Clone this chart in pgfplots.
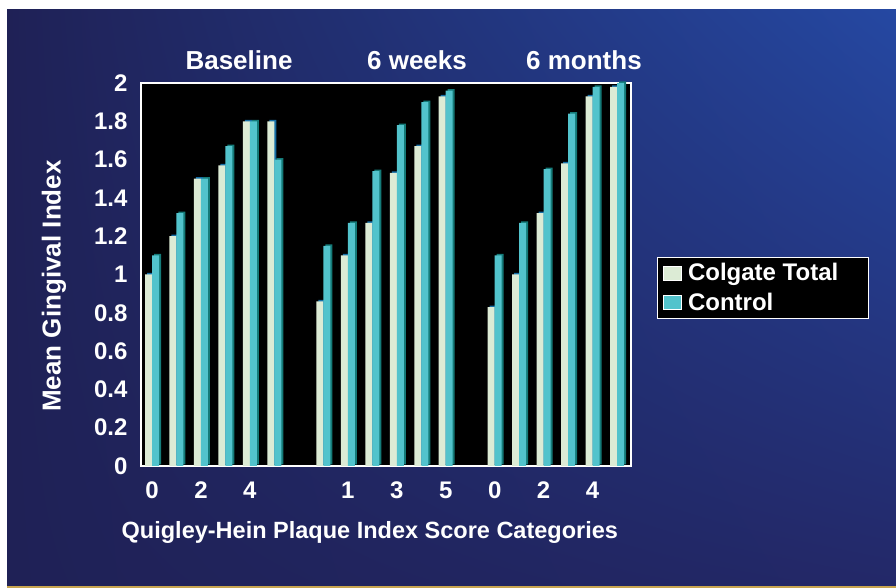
\documentclass[border=0pt]{standalone}
\usepackage{fontspec}
\setmainfont{Liberation Sans}
\usepackage{pgfplots}
\pgfplotsset{compat=1.18}
\usepackage{pgfplotstable}
\usetikzlibrary{shadings}

\definecolor{bgUL}{RGB}{31,33,86}
\definecolor{bgUR}{RGB}{37,72,162}
\definecolor{bgLL}{RGB}{31,33,86}
\definecolor{bgLR}{RGB}{35,40,104}
\definecolor{colgate}{RGB}{220,235,213}
\definecolor{colgatetop}{RGB}{22,110,165}
\definecolor{control}{RGB}{82,195,204}
\definecolor{controldark}{RGB}{20,122,120}
\definecolor{gold}{RGB}{200,165,80}

\newcommand\lbl{\fontsize{24bp}{28bp}\selectfont\bfseries}
\newcommand\xlbl{\fontsize{23.5bp}{28bp}\selectfont\bfseries}
\newcommand\ylbl{\fontsize{26bp}{30bp}\selectfont\bfseries}
\newcommand\ttl{\fontsize{26bp}{30bp}\selectfont\bfseries}

\pgfplotstableread{
pos colgate control
0  1.00 1.10
1  1.20 1.32
2  1.50 1.50
3  1.57 1.67
4  1.80 1.80
5  1.80 1.60
7  0.86 1.15
8  1.10 1.27
9  1.27 1.54
10 1.53 1.78
11 1.67 1.90
12 1.93 1.96
14 0.83 1.10
15 1.00 1.27
16 1.32 1.55
17 1.58 1.84
18 1.93 1.98
19 1.98 2.00
}\datatable

\begin{document}
\begin{tikzpicture}[x=1bp,y=1bp]
\fill[white] (0,0) rectangle (896,588);
\shade[upper left=bgUL, upper right=bgUR, lower left=bgLL, lower right=bgLR] (7,2) rectangle (896,578);
\fill[gold] (7,0.4) rectangle (896,1.6);
\begin{axis}[
  at={(141bp,122bp)}, anchor=south west,
  width=490bp, height=383bp, scale only axis,
  xmin=-0.45, xmax=19.57, ymin=0, ymax=2,
  axis background/.style={fill=black},
  axis line style={white, line width=1.5bp},
  clip mode=individual,
  xtick={0,2,4,8,10,12,14,16,18},
  xticklabels={0,2,4,1,3,5,0,2,4},
  ytick={0,0.2,...,2.01},
  major tick length=0pt,
  /pgf/number format/assume math mode=true,
  tick label style={font=\lbl, text=white},
  xticklabel style={yshift=-12bp},
  yticklabel style={xshift=-10bp},
  legend style={at={(rel axis cs:1.053,0.5457)}, anchor=north west,
    fill=black, draw=white, line width=1bp, text=white, font=\lbl,
    cells={anchor=west}, inner xsep=6bp, inner ysep=4bp, row sep=7bp,
    /tikz/every odd column/.style={column sep=4bp}},
]
\addplot[ybar, bar width=7bp, bar shift=-1.5bp, fill=colgatetop, draw=none, yshift=1.5bp, forget plot] table[x=pos, y=colgate] {\datatable};
\addplot[ybar, bar width=7bp, bar shift=-3.5bp, fill=colgate, draw=none,
  legend image code/.code={\fill[colgate, draw=white, line width=0.6bp] (0bp,-7bp) rectangle (18bp,7bp);}] table[x=pos, y=colgate] {\datatable};
\addlegendentry{\makebox[172bp][l]{Colgate Total}}
\addplot[ybar, bar width=7bp, bar shift=5.5bp, fill=controldark, draw=none, yshift=1.5bp, forget plot] table[x=pos, y=control] {\datatable};
\addplot[ybar, bar width=7bp, bar shift=3.5bp, fill=control, draw=none,
  legend image code/.code={\fill[control, draw=white, line width=0.6bp] (0bp,-7bp) rectangle (18bp,7bp);}] table[x=pos, y=control] {\datatable};
\addlegendentry{\makebox[172bp][l]{Control}}

\node[font=\ttl, text=white, anchor=base] at (rel axis cs:0.200,1.034) {Baseline};
\node[font=\ttl, text=white, anchor=base] at (rel axis cs:0.5633,1.034) {6 weeks};
\node[font=\ttl, text=white, anchor=base] at (rel axis cs:0.904,1.034) {6 months};
\node[font=\xlbl, text=white, anchor=base] at (rel axis cs:0.467,-0.1906) {Quigley-Hein Plaque Index Score Categories};
\node[font=\ylbl, text=white, rotate=90] at (rel axis cs:-0.1776,0.47) {Mean Gingival Index};
\end{axis}
\end{tikzpicture}
\end{document}
